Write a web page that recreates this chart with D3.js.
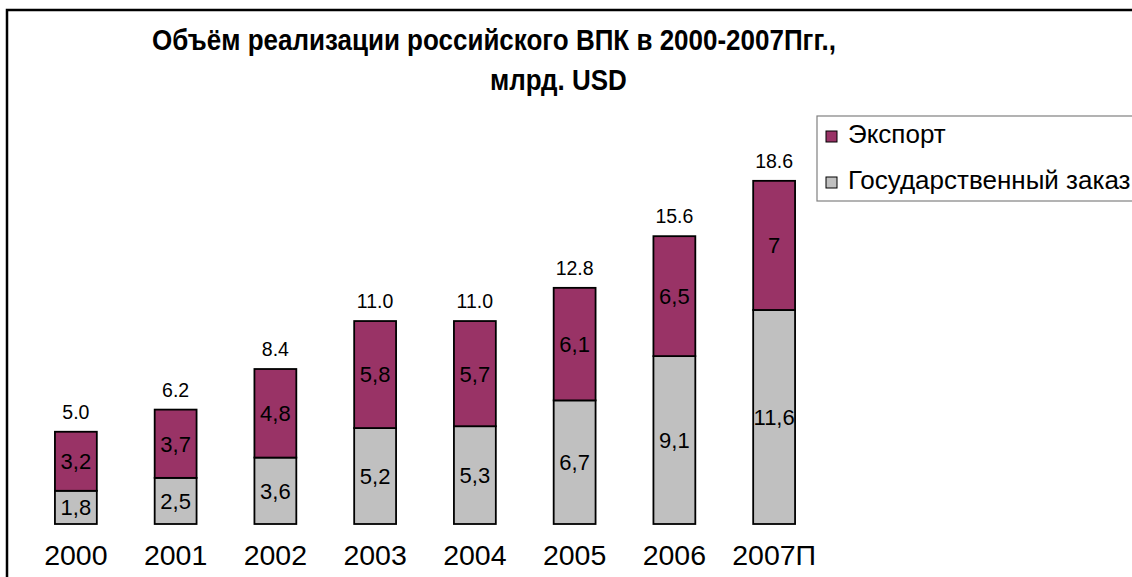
<!DOCTYPE html>
<html>
<head>
<meta charset="utf-8">
<script src="https://cdn.jsdelivr.net/npm/d3@7"></script>
<style>
  body { margin: 0; background: #fff; }
  svg { display: block; font-family: Arial, "Liberation Sans", sans-serif; }
</style>
</head>
<body>
<div id="chart"></div>
<script>
// data
const years = ["2000", "2001", "2002", "2003", "2004", "2005", "2006", "2007П"];
const govOrder = [1.8, 2.5, 3.6, 5.2, 5.3, 6.7, 9.1, 11.6];
const exportVals = [3.2, 3.7, 4.8, 5.8, 5.7, 6.1, 6.5, 7];
const seriesNames = ["Экспорт", "Государственный заказ"];
const seriesColors = ["#993366", "#c0c0c0"];

const width = 1132, height = 577;

const svg = d3.select("#chart")
  .append("svg")
  .attr("width", width)
  .attr("height", height);

// outer frame (runs off the right and bottom edge)
svg.append("rect")
  .attr("x", 7)
  .attr("y", 10)
  .attr("width", 1200)
  .attr("height", 700)
  .attr("fill", "#fff")
  .attr("stroke", "#000")
  .attr("stroke-width", 2.5);

// title, a bit taller than the plain font like in the original
svg.append("text")
  .attr("transform", "translate(494,50) scale(1,1.15)")
  .attr("text-anchor", "middle")
  .style("font-weight", "bold")
  .style("font-size", "26px")
  .text("Объём реализации российского ВПК в 2000-2007Пгг.,");
svg.append("text")
  .attr("transform", "translate(490,90) scale(1,1.15)")
  .attr("text-anchor", "start")
  .style("font-weight", "bold")
  .style("font-size", "26px")
  .text("млрд. USD");

const x = d3.scaleBand()
  .domain(years)
  .range([26, 824])
  .paddingInner(0.58)
  .paddingOuter(0.29);

const y = d3.scaleLinear()
  .domain([0, 20])
  .range([524, 155]);

const rows = years.map((yr, i) => ({ year: yr, gov: govOrder[i], exp: exportVals[i] }));
const stack = d3.stack().keys(["gov", "exp"])(rows);
const fills = { gov: seriesColors[1], exp: seriesColors[0] };

const comma = v => String(v).replace(".", ",");

stack.forEach(layer => {
  const g = svg.append("g");
  g.selectAll("rect")
    .data(layer)
    .join("rect")
    .attr("x", d => x(d.data.year))
    .attr("y", d => y(d[1]))
    .attr("width", x.bandwidth())
    .attr("height", d => y(d[0]) - y(d[1]))
    .attr("fill", fills[layer.key])
    .attr("stroke", "#000")
    .attr("stroke-width", 1.8);

  g.selectAll("text")
    .data(layer)
    .join("text")
    .attr("x", d => x(d.data.year) + x.bandwidth() / 2)
    .attr("y", d => (y(d[0]) + y(d[1])) / 2)
    .attr("dy", "0.36em")
    .attr("text-anchor", "middle")
    .style("font-size", "22px")
    .text(d => comma(d.data[layer.key]));
});

// totals above bars
svg.append("g").selectAll("text")
  .data(rows)
  .join("text")
  .attr("x", d => x(d.year) + x.bandwidth() / 2)
  .attr("y", d => y(d.gov + d.exp) - 13)
  .attr("text-anchor", "middle")
  .style("font-size", "19.5px")
  .text(d => (d.gov + d.exp).toFixed(1));

// category axis labels
const xAxis = svg.append("g")
  .attr("transform", "translate(0,565)")
  .call(d3.axisBottom(x).tickSize(0).tickPadding(0));
xAxis.select(".domain").remove();
xAxis.selectAll("text")
  .attr("dy", 0)
  .attr("y", 0)
  .attr("fill", "#000")
  .style("font-size", "28.5px")
  .style("font-family", "Arial, 'Liberation Sans', sans-serif");

// legend
const legend = svg.append("g");
legend.append("rect")
  .attr("x", 817)
  .attr("y", 116)
  .attr("width", 400)
  .attr("height", 85)
  .attr("fill", "#fff")
  .attr("stroke", "#808080")
  .attr("stroke-width", 1.2);

const item = legend.selectAll("g.item")
  .data(seriesNames)
  .join("g")
  .attr("class", "item")
  .attr("transform", (d, i) => `translate(826,${131 + i * 46})`);
item.append("rect")
  .attr("width", 11)
  .attr("height", 11)
  .attr("fill", (d, i) => seriesColors[i])
  .attr("stroke", "#000")
  .attr("stroke-width", 1);
item.append("text")
  .attr("x", 22)
  .attr("y", 12)
  .style("font-size", "26px")
  .text(d => d);
</script>
</body>
</html>
